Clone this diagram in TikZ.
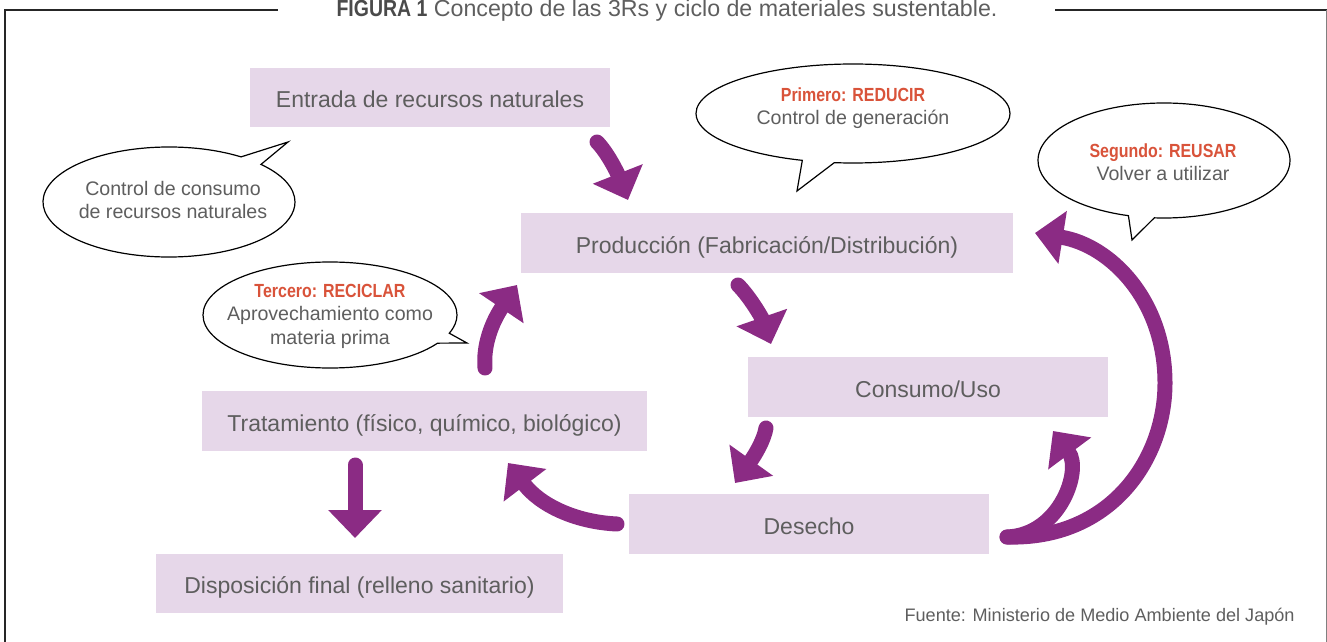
\documentclass[tikz,border=0pt]{standalone}
\usepackage{fontspec}
\setmainfont{Liberation Sans}
\newfontfamily\condbold[FakeStretch=0.84]{Liberation Sans Bold}
\usetikzlibrary{arrows.meta,shapes.callouts}
\definecolor{pur}{HTML}{8B2B84}
\definecolor{boxfill}{HTML}{E6D7E9}
\definecolor{txt}{HTML}{5E5E5E}
\definecolor{lab}{HTML}{D9533A}
\definecolor{ttl}{HTML}{4A4A4A}
\tikzset{
  box/.style={fill=boxfill, inner sep=0pt, text=txt, text height=10.2pt, text depth=0pt, font=\fontsize{11.5}{14}\selectfont},
  bubble/.style={ellipse callout, draw=black, fill=white, line width=0.6pt, inner sep=0pt, callout pointer arc=12},
  btext/.style={align=center, text=txt, inner sep=0pt, font=\fontsize{9.8}{11.7}\selectfont},
  parrow/.style={draw=pur, line width=7.5pt, line cap=round, -{Triangle[length=14pt,width=26pt]}},
  frame/.style={line width=1pt, draw=black!85}
}
\newcommand{\lbl}[1]{{\condbold\fontsize{9.5}{11.7}\selectfont\color{lab}#1}}
\begin{document}
\begin{tikzpicture}[x=0.5pt,y=-0.5pt]
\useasboundingbox (0,0) rectangle (1327,642);
% frame
\draw[frame] (5,642) -- (5,10) -- (278,10);
\draw[frame] (1055,10) -- (1327,10);
\draw[gray, line width=0.5pt] (1326,10) -- (1326,642);
\node[anchor=base, text=txt, inner sep=0pt, font=\fontsize{11.6}{14}\selectfont] (title) at (667,17)
  {{\condbold\color{ttl}FIGURA 1} Concepto de las 3Rs y ciclo de materiales sustentable.};
\node[anchor=base east, text=txt, inner sep=0pt, font=\fontsize{9.05}{11}\selectfont] (src) at (1295,621)
  {Fuente: Ministerio de Medio Ambiente del Japón};
% boxes
\node[box, minimum width=180pt, minimum height=29.5pt] (entrada) at (430,97.5) {Entrada de recursos naturales};
\node[box, minimum width=246pt, minimum height=30pt] (prod) at (767,243) {Producción (Fabricación/Distribución)};
\node[box, minimum width=180pt, minimum height=30pt] (consumo) at (928,387) {Consumo/Uso};
\node[box, minimum width=180pt, minimum height=30pt] (desecho) at (809,524) {Desecho};
\node[box, minimum width=222.5pt, minimum height=30pt] (trat) at (424.5,421) {Tratamiento (físico, químico, biológico)};
\node[box, minimum width=203.5pt, minimum height=29.5pt] (disp) at (359.5,583.5) {Disposición final (relleno sanitario)};
% callouts
\coordinate (t1) at (288,142);
\coordinate (t2) at (797,191);
\coordinate (t3) at (1132,240);
\coordinate (t4) at (467,343);
\node[bubble, minimum width=126pt, minimum height=55pt, callout absolute pointer={(t1)}] (c1) at (169,202) {};
\node[bubble, minimum width=157pt, minimum height=49.5pt, callout absolute pointer={(t2)}] (c2) at (853,113.5) {};
\node[bubble, minimum width=126pt, minimum height=57.5pt, callout absolute pointer={(t3)}] (c3) at (1164,160.5) {};
\node[bubble, minimum width=127pt, minimum height=53pt, callout absolute pointer={(t4)}] (c4) at (330,315) {};
\node[btext] (c1t) at (173,200) {Control de consumo\\de recursos naturales};
\node[btext] (c2t) at (853,108) {\lbl{Primero: REDUCIR}\\Control de generación};
\node[btext] (c3t) at (1163,162) {\lbl{Segundo: REUSAR}\\Volver a utilizar};
\node[btext] (c4t) at (330,316) {\lbl{Tercero: RECICLAR}\\Aprovechamiento como\\materia prima};
% arrows
\coordinate (a1s) at (597,142); \coordinate (a1e) at (628,200);
\coordinate (a2s) at (738,285); \coordinate (a2e) at (771,344);
\coordinate (a3s) at (766,428); \coordinate (a3e) at (735,483);
\coordinate (a4s) at (617,524); \coordinate (a4e) at (508,463);
\coordinate (a5s) at (485,368); \coordinate (a5e) at (517,285);
\coordinate (a6s) at (355,465); \coordinate (a6e) at (355,538);
\coordinate (a7s) at (1007,537); \coordinate (a7e) at (1053,431);
\coordinate (a8e) at (1035,233);
\draw[parrow] (a1s) .. controls (607,152) and (617,172) .. (a1e);
\draw[parrow] (a2s) .. controls (750,297) and (762,318) .. (a2e);
\draw[parrow] (a3s) .. controls (764,440) and (755,455) .. (a3e);
\draw[parrow] (a4s) .. controls (575,522) and (540,505) .. (a4e);
\draw[parrow] (a5s) .. controls (483,345) and (492,322) .. (a5e);
\draw[parrow] (a6s) -- (a6e);
\draw[parrow] (a7s) .. controls (1060,535) and (1082,470) .. (a7e);
\draw[parrow] (a7s) .. controls (1110,540) and (1165,460) .. (1165,383) .. controls (1165,300) and (1110,245) .. (a8e);
\end{tikzpicture}
\end{document}
